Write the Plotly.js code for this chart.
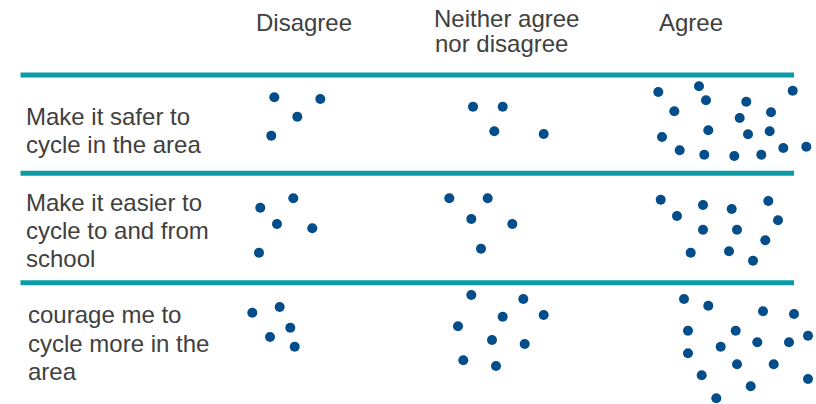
<!DOCTYPE html>
<html>
<head>
<meta charset="utf-8">
<script src="https://cdn.plot.ly/plotly-3.0.1.min.js"></script>
<style>html,body{margin:0;padding:0;background:#fff;}#chart{width:816px;height:404px;}</style>
</head>
<body>
<div id="chart"></div>
<script>
// Column headers (response categories)
var categories = ["Disagree", "Neither agree nor disagree", "Agree"];
var headerLines = [["Disagree"], ["Neither agree", "nor disagree"], ["Agree"]];

// Statements (row labels, as wrapped in the chart)
var statements = [
  ["Make it safer to", "cycle in the area"],
  ["Make it easier to", "cycle to and from", "school"],
  ["courage me to", "cycle more in the", "area"]
];

// Dot positions — one dot per response
// Row 1: Make it safer to cycle in the area
var safer_disagree_x = [274.3, 320.3, 297.3, 271.3];
var safer_disagree_y = [97.3, 99, 116.7, 135.7];
var safer_neither_x = [473, 502.7, 494.3, 543.7];
var safer_neither_y = [106.7, 106.7, 131.3, 134];
var safer_agree_x = [658.3, 699, 706, 674.3, 746.3, 792.7, 771, 739.7, 708.3, 662, 748, 769.7, 679.7, 704.3, 734.3, 761.3, 783.3, 806.3];
var safer_agree_y = [92, 86.3, 100.3, 111.3, 101.7, 90.7, 112.3, 118, 130.3, 137, 134.3, 131.3, 150.3, 154.7, 156, 154.7, 148, 146.7];

// Row 2: Make it easier to cycle to and from school
var school_disagree_x = [260.3, 293.3, 277, 312.3, 259];
var school_disagree_y = [207.7, 198.3, 224, 228.3, 252.7];
var school_neither_x = [449.3, 487.7, 471.3, 512.3, 481];
var school_neither_y = [198.3, 198.3, 219, 224, 248.7];
var school_agree_x = [660.7, 703, 731.7, 768.3, 677, 778, 703, 737, 765.3, 690.7, 729, 753];
var school_agree_y = [199.7, 205, 209, 201, 216, 220.3, 229.7, 229.7, 240.3, 252.7, 251.3, 260.7];

// Row 3: (En)courage me to cycle more in the area
var more_disagree_x = [252.3, 279.7, 290.3, 270, 294.7];
var more_disagree_y = [312.7, 307, 327.7, 337, 346.7];
var more_neither_x = [471.3, 523.3, 502.7, 543.7, 458, 492, 524.7, 463.3, 496];
var more_neither_y = [295, 299, 316.7, 315, 326.3, 340, 344, 360.3, 366];
var more_agree_x = [684, 708.3, 763, 794, 688, 735.7, 757.3, 789, 808, 720.7, 688, 737, 773.7, 701.7, 750.7, 808, 716.3];
var more_agree_y = [299, 305.7, 311.3, 314, 330.7, 330.7, 342.3, 342.3, 335.7, 346.7, 353.3, 364.3, 364.3, 375.3, 386.3, 379, 398.3];

var cells = [
  [safer_disagree_x, safer_disagree_y, safer_neither_x, safer_neither_y, safer_agree_x, safer_agree_y],
  [school_disagree_x, school_disagree_y, school_neither_x, school_neither_y, school_agree_x, school_agree_y],
  [more_disagree_x, more_disagree_y, more_neither_x, more_neither_y, more_agree_x, more_agree_y]
];

var DOT = "#024D8A";
var TEAL = "#0B9BA5";
var TEXT = "#404040";
var FONT = "Liberation Sans, Arial, Helvetica, sans-serif";
var FS = 24;

var traces = [];
cells.forEach(function (row, r) {
  for (var c = 0; c < 3; c++) {
    traces.push({
      type: "scatter", mode: "markers",
      name: statements[r].join(" ") + " — " + categories[c],
      x: row[2 * c], y: row[2 * c + 1],
      marker: { color: DOT, size: 10, line: { width: 0 } },
      cliponaxis: false, hoverinfo: "skip"
    });
  }
});

// Separator lines
var sepY = [75, 173.3, 282.8];
var shapes = sepY.map(function (y) {
  return { type: "line", xref: "x", yref: "y", x0: 20.5, x1: 794, y0: y, y1: y,
           line: { color: TEAL, width: 5 } };
});

var annotations = [];
function addText(t, x, baseline, anchor) {
  annotations.push({ text: t, x: x, y: baseline - 6.8, xref: "x", yref: "y",
    xanchor: anchor, yanchor: "middle", showarrow: false, borderpad: 0, borderwidth: 0,
    font: { family: FONT, size: FS, color: TEXT } });
}
// headers
addText(headerLines[0][0], 303.7, 29.3, "center");
addText(headerLines[1][0], 434, 25.5, "left");
addText(headerLines[1][1], 434.5, 50.5, "left");
addText(headerLines[2][0], 690.5, 29.3, "center");
// row labels
var rowBase = [[123.3, 151.5], [209.3, 237.3, 265], [321.7, 350, 378.3]];
var rowLeft = [25.5, 25.5, 28];
statements.forEach(function (lines, r) {
  lines.forEach(function (t, i) { addText(t, rowLeft[r], rowBase[r][i], "left"); });
});

var layout = {
  width: 816, height: 404,
  margin: { l: 0, r: 0, t: 0, b: 0, pad: 0 },
  paper_bgcolor: "#ffffff", plot_bgcolor: "#ffffff",
  showlegend: false,
  xaxis: { range: [0, 816], visible: false, fixedrange: true },
  yaxis: { range: [404, 0], visible: false, fixedrange: true },
  shapes: shapes,
  annotations: annotations
};

Plotly.newPlot("chart", traces, layout, { displayModeBar: false, staticPlot: true });
</script>
</body>
</html>
